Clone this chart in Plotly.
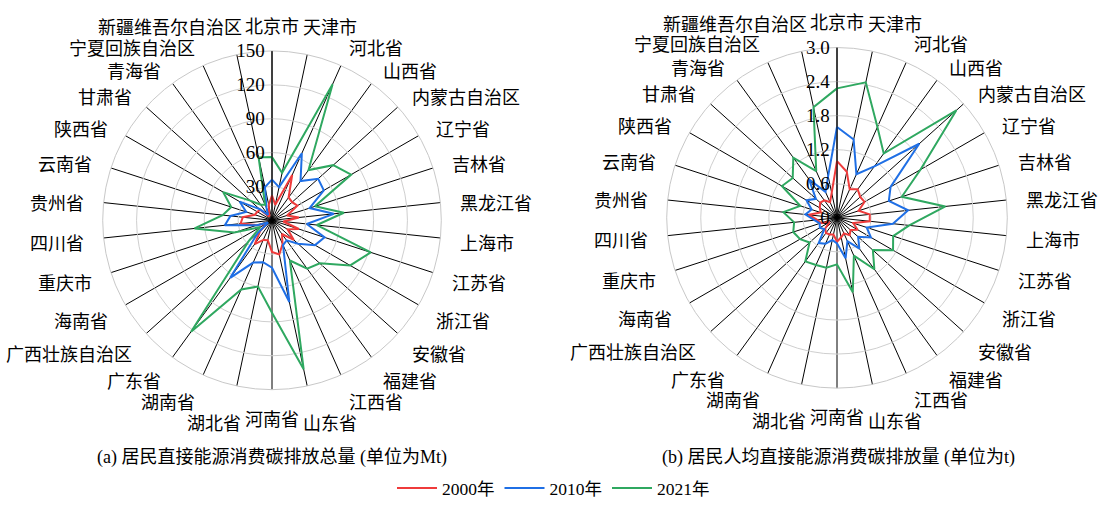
import math
import plotly.graph_objects as go

# Provinces, clockwise from the top
provinces = ['北京市', '天津市', '河北省', '山西省', '内蒙古自治区', '辽宁省', '吉林省', '黑龙江省',
             '上海市', '江苏省', '浙江省', '安徽省', '福建省', '江西省', '山东省', '河南省',
             '湖北省', '湖南省', '广东省', '广西壮族自治区', '海南省', '重庆市', '四川省', '贵州省',
             '云南省', '陕西省', '甘肃省', '青海省', '宁夏回族自治区', '新疆维吾尔自治区']

# Total residential direct energy-consumption carbon emissions (Mt)
total_2000 = [22, 14, 44, 25, 24, 26, 14, 24, 10, 25, 16, 26, 15, 23, 31, 28, 18, 19, 26, 14,
              5, 14, 28, 26, 16, 15, 14, 4, 6, 14]
total_2010 = [36, 30, 65, 43, 55, 53, 35, 55, 31, 49, 44, 31, 22, 24, 74, 42, 38, 41, 63, 17,
              4, 14, 42, 37, 24, 33, 15, 6, 12, 30]
total_2021 = [56, 43, 132, 55, 73, 81, 40, 64, 40, 92, 80, 57, 53, 39, 135, 82, 60, 67, 122, 28,
              12, 35, 69, 44, 38, 50, 26, 17, 15, 57]

# Per-capita residential direct energy-consumption carbon emissions (t)
percap_2000 = [1.00, 0.83, 0.55, 0.62, 0.55, 0.56, 0.40, 0.58, 0.58, 0.30, 0.42, 0.32, 0.38, 0.30,
               0.35, 0.42, 0.30, 0.32, 0.33, 0.28, 0.15, 0.30, 0.35, 0.50, 0.30, 0.35, 0.40, 0.38,
               0.30, 0.45]
percap_2010 = [1.60, 1.41, 0.84, 1.12, 1.95, 1.09, 0.96, 1.26, 0.99, 0.55, 0.69, 0.50, 0.67, 0.45,
               0.73, 0.45, 0.40, 0.50, 0.55, 0.30, 0.35, 0.32, 0.40, 0.56, 0.47, 0.62, 0.50, 0.84,
               0.50, 0.75]
percap_2021 = [2.28, 2.44, 1.75, 1.40, 2.83, 1.70, 1.20, 1.92, 1.28, 1.04, 1.14, 0.85, 1.12, 0.73,
               1.34, 0.82, 0.90, 0.91, 0.95, 0.65, 0.75, 0.81, 0.76, 0.95, 0.68, 1.12, 1.05, 1.31,
               0.90, 1.99]

years = ['2000年', '2010年', '2021年']
colors = ['#ef3b3b', '#1f6fe5', '#2fa860']

total_ticks = [0, 30, 60, 90, 120, 150]
total_ticktext = ['', '30', '60', '90', '120', '150']
percap_ticks = [0, 0.6, 1.2, 1.8, 2.4, 3.0]
percap_ticktext = ['0', '0.6', '1.2', '1.8', '2.4', '3.0']

W, H = 1107, 506
LATIN = 'Liberation Serif, Times New Roman, serif'
CJK = 'Liberation Serif, Noto Sans CJK SC, serif'
LABEL_SIZE = 18

# Geometry of the two radar panels (centre x, centre y, radius) in pixels
PANEL_A = (272, 222.5, 171)
PANEL_B = (837, 220, 172)


def closed(vals):
    return list(vals) + [vals[0]]


def domain(cx, cy, rad):
    return dict(x=[(cx - rad) / W, (cx + rad) / W],
                y=[1 - (cy + rad) / H, 1 - (cy - rad) / H])


def polar_layout(panel, rmax, tickvals, ticktext):
    cx, cy, rad = panel
    return dict(
        domain=domain(cx, cy, rad),
        bgcolor='white',
        angularaxis=dict(
            direction='clockwise', rotation=90, type='category',
            categoryorder='array', categoryarray=provinces,
            showgrid=True, gridcolor='black', gridwidth=1,
            showline=True, linecolor='#c8c8c8', linewidth=1,
            ticks='', showticklabels=False,
        ),
        radialaxis=dict(
            range=[0, rmax], angle=90, side='counterclockwise',
            tickvals=tickvals, ticktext=ticktext, tickangle=90,
            showgrid=True, gridcolor='#cfcfcf', gridwidth=1,
            showline=True, linecolor='black', linewidth=1,
            ticks='', tickfont=dict(family=LATIN, size=19, color='black'),
        ),
    )


def category_labels(panel, gap=18):
    """Place the province names just outside the rim, one per spoke,
    nudging neighbours apart where the boxes would collide."""
    cx, cy, rad = panel
    n = len(provinces)
    boxes = []
    for i, name in enumerate(provinces):
        a = 2 * math.pi * i / n
        sx, sy = math.sin(a), -math.cos(a)
        w, h = len(name) * LABEL_SIZE, LABEL_SIZE + 1
        px, py = cx + (rad + gap) * sx, cy + (rad + gap) * sy
        fx = max(-1.0, min(1.0, sx / 0.3))
        if sy > 0:
            fy = 1.0
        else:
            fy = max(0.0, min(1.0, (abs(sy) - 0.85) / 0.15))
        boxes.append([px + fx * w / 2, py + 3 + sy * fy * h / 2, w, h, sx, sy])

    def overlap(b1, b2):
        ox = min(b1[0] + b1[2] / 2, b2[0] + b2[2] / 2) - max(b1[0] - b1[2] / 2, b2[0] - b2[2] / 2)
        oy = min(b1[1] + b1[3] / 2, b2[1] + b2[3] / 2) - max(b1[1] - b1[3] / 2, b2[1] - b2[3] / 2)
        return ox, oy

    for _ in range(20):
        moved = False
        for i in range(n):
            j = (i + 1) % n
            b1, b2 = boxes[i], boxes[j]
            ox, oy = overlap(b1, b2)
            if ox <= 0 or oy <= 0:
                continue
            moved = True
            # a label sitting on the vertical axis stays; its neighbour slides sideways
            if abs(b1[4]) < 0.05 or abs(b2[4]) < 0.05:
                other = b2 if abs(b1[4]) < 0.05 else b1
                other[0] += math.copysign(ox + 3, other[4])
            else:
                # the one nearer the top/bottom moves further out vertically
                mover = b1 if abs(b1[5]) > abs(b2[5]) else b2
                mover[1] += math.copysign(oy + 2, mover[5])
        if not moved:
            break

    anns = []
    for name, b in zip(provinces, boxes):
        anns.append(dict(text=name, x=b[0] / W, y=1 - b[1] / H, xref='paper', yref='paper',
                         showarrow=False, xanchor='center', yanchor='middle',
                         font=dict(family=CJK, size=LABEL_SIZE, color='black')))
    return anns


theta = closed(provinces)
fig = go.Figure()

for name, col, tv, pv in zip(years, colors,
                             [total_2000, total_2010, total_2021],
                             [percap_2000, percap_2010, percap_2021]):
    fig.add_trace(go.Scatterpolar(r=closed(tv), theta=theta, mode='lines', name=name,
                                  line=dict(color=col, width=2), subplot='polar',
                                  legendgroup=name))
    fig.add_trace(go.Scatterpolar(r=closed(pv), theta=theta, mode='lines', name=name,
                                  line=dict(color=col, width=2), subplot='polar2',
                                  legendgroup=name, showlegend=False))

captions = [
    dict(text='(a) 居民直接能源消费碳排放总量 (单位为Mt)', x=272 / W, y=1 - 462 / H,
         xref='paper', yref='paper', showarrow=False, xanchor='center', yanchor='middle',
         font=dict(family=CJK, size=18, color='black')),
    dict(text='(b) 居民人均直接能源消费碳排放量 (单位为t)', x=838 / W, y=1 - 462 / H,
         xref='paper', yref='paper', showarrow=False, xanchor='center', yanchor='middle',
         font=dict(family=CJK, size=18, color='black')),
]

fig.update_layout(
    width=W, height=H,
    margin=dict(l=0, r=0, t=0, b=0),
    paper_bgcolor='white', plot_bgcolor='white',
    polar=polar_layout(PANEL_A, 150, total_ticks, total_ticktext),
    polar2=polar_layout(PANEL_B, 3.0, percap_ticks, percap_ticktext),
    showlegend=True,
    legend=dict(orientation='h', x=0.5, xanchor='center', y=1 - 493 / H, yanchor='middle',
                font=dict(family=CJK, size=17.5, color='black'), itemwidth=40,
                bgcolor='rgba(0,0,0,0)'),
    annotations=category_labels(PANEL_A) + category_labels(PANEL_B) + captions,
)

fig.write_html('out.html')
